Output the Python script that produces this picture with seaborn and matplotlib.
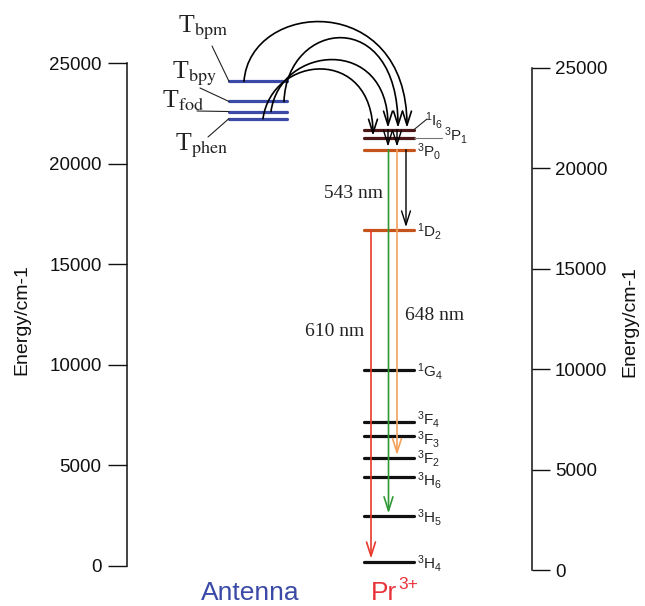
import matplotlib
matplotlib.use("Agg")
import matplotlib.pyplot as plt
import pandas as pd
import seaborn as sns
from matplotlib.patches import FancyArrowPatch
from matplotlib.path import Path

# ---------------------------------------------------------------- data
# Pr3+ multiplets (energy in cm-1)
pr_levels = ["1I6", "3P1", "3P0", "1D2", "1G4", "3F4", "3F3", "3F2", "3H6", "3H5", "3H4"]
pr_energy = [21700, 21300, 20700, 16700, 9750, 7150, 6450, 5350, 4400, 2450, 200]
pr_labels = [r"$^{1}$I$_{6}$", r"$^{3}$P$_{1}$", r"$^{3}$P$_{0}$", r"$^{1}$D$_{2}$",
             r"$^{1}$G$_{4}$", r"$^{3}$F$_{4}$", r"$^{3}$F$_{3}$", r"$^{3}$F$_{2}$",
             r"$^{3}$H$_{6}$", r"$^{3}$H$_{5}$", r"$^{3}$H$_{4}$"]

# ligand triplet states (energy in cm-1)
ligands = ["bpm", "bpy", "fod", "phen"]
triplet_energy = [24100, 23100, 22600, 22250]
# level each triplet transfers its energy to
transfer_target = ["1I6", "1I6", "1I6", "3P1"]

# radiative transitions
emission_names = ["610 nm", "543 nm", "648 nm"]
emission_from = ["1D2", "3P0", "3P0"]
emission_to = ["3H4", "3H5", "3F2"]

# non-radiative relaxation steps
relax_from = ["1I6", "1I6", "3P0"]
relax_to = ["3P0", "3P0", "1D2"]

# ---------------------------------------------------------------- style
sns.set_style("white")
plt.rcParams["font.family"] = ["Liberation Sans", "DejaVu Sans"]
plt.rcParams["mathtext.fontset"] = "custom"
plt.rcParams["mathtext.rm"] = "Liberation Sans"
plt.rcParams["mathtext.it"] = "Liberation Sans:italic"
plt.rcParams["mathtext.bf"] = "Liberation Sans:bold"

W, H = 645, 606
BLUE = "#3a4aa6"
MAROON = "#4c1717"
RUST = "#c4541c"
RED = "#e8333a"
EM_COLORS = {"610 nm": "#e8392b", "543 nm": "#2f9a35", "648 nm": "#f5a05a"}

# vertical layout: pixel row of 0 cm-1 on each axis, pixels per cm-1
SCALE = 25000 / 502.4
Y0_LEFT, Y0_RIGHT = 565.7, 570.1


def ey(ypix, y0=Y0_LEFT):
    """Energy value that sits at a given pixel row."""
    return (y0 - ypix) * SCALE


fig = plt.figure(figsize=(W / 100, H / 100), dpi=100)
ax = fig.add_axes([0, 0, 1, 1])
ax.set_xlim(0, W)
ax.set_ylim(ey(H), ey(0))

# ---------------------------------------------------------------- level bars
PR_X = (364, 414)
ANT_X = (229, 287)
rows = []
for name, e in zip(pr_levels, pr_energy):
    for x in PR_X:
        rows.append({"level": name, "x": x, "energy": e})
for name, e in zip(ligands, triplet_energy):
    for x in ANT_X:
        rows.append({"level": "T" + name, "x": x, "energy": e})
levels_df = pd.DataFrame(rows)

palette = {name: "#111111" for name in pr_levels}
palette.update({"1I6": MAROON, "3P1": MAROON, "3P0": RUST, "1D2": RUST})
palette.update({"T" + name: BLUE for name in ligands})

sns.lineplot(data=levels_df, x="x", y="energy", hue="level", palette=palette,
             estimator=None, sort=False, linewidth=2.3, legend=False, ax=ax)

E = dict(zip(pr_levels, pr_energy))
T = dict(zip(ligands, triplet_energy))
HEAD = "->,head_length=1.0,head_width=0.32"


def arrow(p0, p1, color, lw=1.0):
    ax.add_patch(FancyArrowPatch(p0, p1, arrowstyle=HEAD, mutation_scale=10,
                                 color=color, lw=lw, shrinkA=0, shrinkB=0, zorder=4))


GAP = 3 * SCALE  # arrow tips stop just above the bar

# radiative transitions
EM_X = {"610 nm": 371, "543 nm": 388.5, "648 nm": 397}
for name, a, b in zip(emission_names, emission_from, emission_to):
    x = EM_X[name]
    arrow((x, E[a]), (x, E[b] + GAP), EM_COLORS[name], lw=1.2)

# relaxation
RELAX_X = [388, 397, 406]
for x, a, b in zip(RELAX_X, relax_from, relax_to):
    arrow((x, E[a]), (x, E[b] + GAP), "black", lw=1.0)

# energy transfer arcs from triplet states to Pr3+
ARC_START_X = [244, 284, 271, 263]
ARC_TIP_X = [407, 398, 388, 373]
ARC_CTRL = [((250, 0), -10), ((287, 20), 5), ((280, 45), 35), ((272, 55), 45)]
for lig, xs, xt, (c1, c2y), tgt in zip(ligands, ARC_START_X, ARC_TIP_X, ARC_CTRL, transfer_target):
    verts = [(xs, T[lig]), (c1[0], ey(c1[1])), (xt, ey(c2y)), (xt, E[tgt] + 0.6 * GAP)]
    path = Path(verts, [Path.MOVETO, Path.CURVE4, Path.CURVE4, Path.CURVE4])
    ax.add_patch(FancyArrowPatch(path=path, arrowstyle=HEAD, mutation_scale=10,
                                 color="black", lw=1.2, zorder=4))

# ---------------------------------------------------------------- level labels
LABEL_POS = {"1I6": (425, 120), "3P1": (444, 135)}
# small vertical nudges (pixels, downward) so neighbouring labels stay clear
LABEL_NUDGE = {"3F4": -3.0, "3F3": 3.5, "3F2": 0.5, "3H6": 3.5}
for name, lab in zip(pr_levels, pr_labels):
    x, ypix = LABEL_POS.get(name, (417, None))
    if ypix is not None:
        y = ey(ypix)
    else:
        y = E[name] - LABEL_NUDGE.get(name, 1.5) * SCALE
    ax.text(x, y, lab, fontsize=11, color="#222222", ha="left", va="center", zorder=5)

# leaders for the two crowded labels
ax.plot([PR_X[1], 427], [E["1I6"], ey(119)], color="#222222", lw=0.8)
ax.plot([PR_X[1], 442], [E["3P1"], E["3P1"]], color="#777777", lw=0.8)

# triplet labels and leaders
T_LABEL = {"bpm": (178, 32), "bpy": (172, 78), "fod": (162, 107), "phen": (175, 150)}
T_LEADER = {"bpm": (212, 46), "bpy": (200, 88), "fod": (197, 111), "phen": (208, 137)}
for lig in ligands:
    lx, ly = T_LABEL[lig]
    ax.text(lx, ey(ly), r"T$_{\mathrm{%s}}$" % lig, fontsize=18.5, family="Liberation Serif",
            math_fontfamily="stix", ha="left", va="baseline", color="#222222")
    sx, sy = T_LEADER[lig]
    ax.plot([sx, ANT_X[0]], [ey(sy), T[lig]], color="#222222", lw=0.8)

# wavelength annotations
NM_POS = {"543 nm": (354, 193), "610 nm": (335, 331), "648 nm": (435, 315)}
for name in emission_names:
    x, ypix = NM_POS[name]
    ax.text(x, ey(ypix), name, fontsize=14, family="Liberation Serif",
            ha="center", va="center", color="#222222")

# species captions
ax.text(250, ey(600), "Antenna", fontsize=19, color=BLUE, ha="center", va="baseline")
ax.text(371, ey(600), "Pr", fontsize=19, color=RED, ha="left", va="baseline")
ax.text(398.5, ey(589), "3+", fontsize=12.5, color=RED, ha="left", va="baseline")

# ---------------------------------------------------------------- axes
ticks = [0, 5000, 10000, 15000, 20000, 25000]
for s in ["top", "right", "bottom"]:
    ax.spines[s].set_visible(False)
ax.spines["left"].set_position(("data", 127.3))
ax.spines["left"].set_bounds(0, 25000)
ax.spines["left"].set_linewidth(1.1)
ax.spines["left"].set_color("#111111")
ax.set_yticks(ticks)
ax.set_xticks([])
ax.tick_params(axis="y", direction="out", length=14, width=1.0, pad=4.5,
               labelsize=13.5, colors="#111111", left=True)
ax.set_xlabel("")
ax.set_ylabel("")

ax2 = fig.add_axes([0, 0, 1, 1])
ax2.patch.set_visible(False)
ax2.set_xlim(0, W)
ax2.set_ylim(ey(H, Y0_RIGHT), ey(0, Y0_RIGHT))
for s in ["top", "left", "bottom"]:
    ax2.spines[s].set_visible(False)
ax2.spines["right"].set_visible(True)
ax2.spines["right"].set_position(("data", 531.7))
ax2.spines["right"].set_bounds(0, 25000)
ax2.spines["right"].set_linewidth(1.1)
ax2.spines["right"].set_color("#111111")
ax2.yaxis.tick_right()
ax2.set_yticks(ticks)
ax2.set_xticks([])
ax2.tick_params(axis="y", direction="out", length=13, width=1.0, pad=3.6,
                labelsize=13.5, colors="#111111", right=True, left=False)

fig.text(22 / W, 1 - 320 / H, "Energy/cm-1", rotation=90, fontsize=14,
         ha="center", va="center", color="#111111")
fig.text(630 / W, 1 - 322 / H, "Energy/cm-1", rotation=90, fontsize=14,
         ha="center", va="center", color="#111111")

fig.savefig("out.png", dpi=100)
